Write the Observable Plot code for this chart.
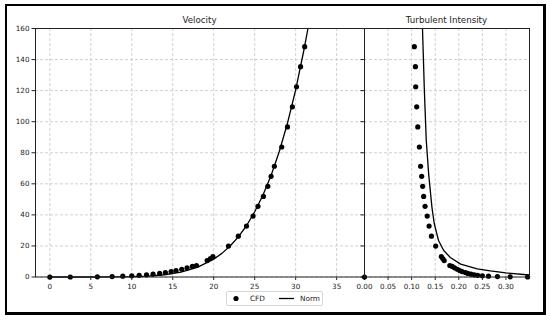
<!DOCTYPE html>
<html>
<head>
<meta charset="utf-8">
<script src="https://cdn.jsdelivr.net/npm/d3@7"></script>
<script src="https://cdn.jsdelivr.net/npm/@observablehq/plot@0.6"></script>
<style>
  html, body { margin: 0; padding: 0; background: #fff; }
  body { width: 550px; height: 320px; position: relative; overflow: hidden; font-family: "DejaVu Sans", sans-serif; }
  #frame { position: absolute; left: 5px; top: 4px; width: 536px; height: 306px; border: 2px solid #000; border-right-width: 3px; border-bottom-width: 3px; }
  .panel { position: absolute; top: 0; }
  .title { position: absolute; font-size: 8.7px; color: #222; transform: translateX(-50%); white-space: nowrap; }
  #legend { position: absolute; left: 226px; top: 291px; width: 95px; height: 13px; border: 1px solid #d6d6d6; border-radius: 2px; background: #fff; font-size: 7.3px; color: #222; }
  #legend span { position: absolute; top: 1.5px; }
</style>
</head>
<body>
<div id="frame"></div>
<div id="left" class="panel" style="left:0px"></div>
<div id="right" class="panel" style="left:344px"></div>
<div class="title" style="left:199.5px; top:15px">Velocity</div>
<div class="title" style="left:446.5px; top:15px">Turbulent Intensity</div>
<div id="legend">
  <svg width="95" height="13" style="position:absolute;left:0;top:0">
    <circle cx="9" cy="6.5" r="2.6" fill="#000"></circle>
    <line x1="52" x2="67" y1="6.5" y2="6.5" stroke="#000" stroke-width="1.3"></line>
  </svg>
  <span style="left:23px">CFD</span>
  <span style="left:73px">Norm</span>
</div>
<script>
// ---- data ----
const heights = [0, 0, 0.1, 0.3, 0.5, 0.8, 1.1, 1.4, 1.8, 2.3, 2.9, 3.5, 4.2, 5.0, 5.9, 6.8, 7.4, 10.6, 11.9, 13.2, 19.9, 26.3, 32.8, 39.2, 45.5, 51.9, 58.4, 64.8, 71.3, 83.7, 96.6, 109.6, 122.5, 135.4, 148.3];
const cfdVelocity = [0, 2.5, 5.8, 7.6, 8.9, 10.0, 10.9, 11.8, 12.6, 13.4, 14.1, 14.8, 15.4, 16.1, 16.75, 17.4, 17.9, 19.2, 19.6, 19.9, 21.8, 23.0, 24.0, 24.8, 25.4, 26.06, 26.6, 27.0, 27.4, 28.3, 29.0, 29.6, 30.1, 30.6, 31.1];
const cfdTI = [0.0, 0.346, 0.309, 0.282, 0.263, 0.250, 0.240, 0.233, 0.226, 0.219, 0.214, 0.207, 0.202, 0.197, 0.191, 0.186, 0.181, 0.169, 0.166, 0.163, 0.151, 0.142, 0.137, 0.133, 0.1285, 0.1255, 0.1234, 0.1213, 0.119, 0.1164, 0.113, 0.1107, 0.1086, 0.108, 0.1057];

const normVelocity = [0, 5, 8, 10, 12, 14, 16, 18, 20, 21, 22, 23, 24, 25, 26, 27, 28, 29, 30, 31, 31.5];
const normVelHeight = [0, 0.01, 0.07, 0.21, 0.6, 1.45, 3.1, 6.2, 11.5, 15.2, 20, 25.8, 33, 42, 52.6, 65.4, 80.8, 99, 120.5, 146, 160];

const normTI = [0.123, 0.127, 0.131, 0.136, 0.143, 0.148, 0.157, 0.168, 0.182, 0.204, 0.239, 0.267, 0.30, 0.35];
const normTIHeight = [160, 120, 88, 66.6, 45, 34.3, 23.5, 17.1, 12.6, 8.3, 5.3, 3.9, 2.6, 1.3];

const yTicks = [0, 20, 40, 60, 80, 100, 120, 140, 160];
const velTicks = [0, 5, 10, 15, 20, 25, 30, 35];
const tiTicks = [0, 0.05, 0.10, 0.15, 0.20, 0.25, 0.30];

// ---- tables ----
const cfdVel = heights.map((h, i) => ({v: cfdVelocity[i], h}));
const cfdTurb = heights.map((h, i) => ({t: cfdTI[i], h}));
const normVel = normVelocity.map((v, i) => ({v, h: normVelHeight[i]}));
const normTurb = normTI.map((t, i) => ({t, h: normTIHeight[i]}));

const gridStyle = {stroke: "#c9c3c3", strokeWidth: 0.8, strokeDasharray: "3,2"};
const common = {
  height: 316,
  marginTop: 28,
  marginBottom: 39.5,
  style: {fontFamily: "DejaVu Sans", fontSize: "7.2px", color: "#222", background: "transparent", overflow: "visible"},
  y: {domain: [0, 160], ticks: yTicks, tickSize: 3.5, tickPadding: 2.5, label: null}
};

const left = Plot.plot({
  ...common,
  width: 364,
  marginLeft: 35,
  marginRight: 0,
  x: {domain: [-1.75, 38.4], ticks: velTicks, tickSize: 3.5, tickPadding: 3, label: null},
  marks: [
    Plot.ruleX(velTicks, gridStyle),
    Plot.ruleY(yTicks, gridStyle),
    Plot.line(normVel, {x: "v", y: "h", stroke: "#000", strokeWidth: 1.3}),
    Plot.dot(cfdVel, {x: "v", y: "h", r: 2.6, fill: "#000", stroke: "none"}),
    Plot.frame({stroke: "#222", strokeWidth: 1})
  ]
});
document.getElementById("left").appendChild(left);

const right = Plot.plot({
  ...common,
  y: {...common.y, tickFormat: () => ""},
  width: 201,
  marginLeft: 20,
  marginRight: 16,
  x: {domain: [0, 0.35], ticks: tiTicks, tickFormat: d3.format(".2f"), tickSize: 3.5, tickPadding: 3, label: null},
  marks: [
    Plot.ruleX(tiTicks, gridStyle),
    Plot.ruleY(yTicks, gridStyle),
    Plot.line(normTurb, {x: "t", y: "h", stroke: "#000", strokeWidth: 1.3}),
    Plot.dot(cfdTurb, {x: "t", y: "h", r: 2.6, fill: "#000", stroke: "none"}),
    Plot.frame({stroke: "#222", strokeWidth: 1})
  ]
});
document.getElementById("right").appendChild(right);
</script>
</body>
</html>
